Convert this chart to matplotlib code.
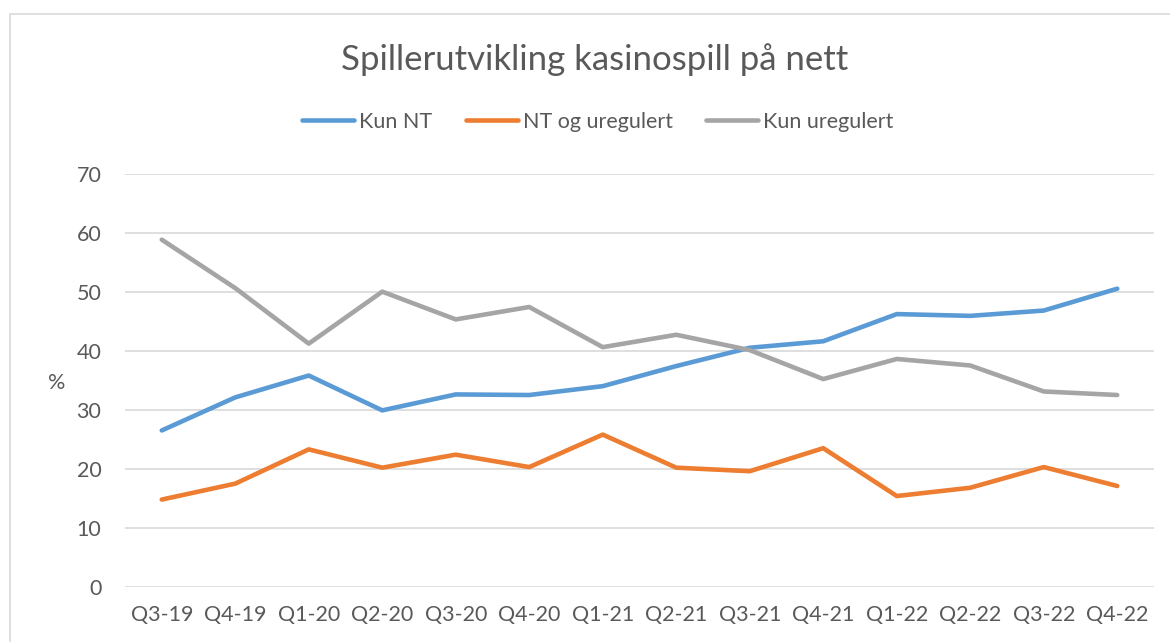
import matplotlib
matplotlib.use('Agg')
import matplotlib.pyplot as plt
from matplotlib.patches import Rectangle

plt.rcParams['font.family'] = ['Lato', 'DejaVu Sans']

quarters = ['Q3-19', 'Q4-19', 'Q1-20', 'Q2-20', 'Q3-20', 'Q4-20', 'Q1-21',
            'Q2-21', 'Q3-21', 'Q4-21', 'Q1-22', 'Q2-22', 'Q3-22', 'Q4-22']
kun_nt = [26.5, 32.1, 35.8, 29.9, 32.6, 32.5, 34.0, 37.4, 40.5, 41.6, 46.2, 45.9, 46.8, 50.5]
nt_og_uregulert = [14.8, 17.5, 23.3, 20.2, 22.4, 20.3, 25.8, 20.2, 19.6, 23.5, 15.4, 16.8, 20.3, 17.1]
kun_uregulert = [58.8, 50.6, 41.2, 50.0, 45.3, 47.4, 40.6, 42.7, 40.1, 35.2, 38.6, 37.5, 33.1, 32.5]

txt = '#595959'
fs = 15.5
W, H = 1170, 642
fig = plt.figure(figsize=(W / 100, H / 100), dpi=100)
ax = fig.add_axes([125 / W, 1 - 587 / H, (1154 - 125) / W, (587 - 173.5) / H])

x = range(len(quarters))
ax.plot(x, kun_nt, color='#5B9BD5', lw=3.3, solid_capstyle='round', solid_joinstyle='round', label='Kun NT')
ax.plot(x, nt_og_uregulert, color='#ED7D31', lw=3.3, solid_capstyle='round', solid_joinstyle='round', label='NT og uregulert')
ax.plot(x, kun_uregulert, color='#A5A5A5', lw=3.3, solid_capstyle='round', solid_joinstyle='round', label='Kun uregulert')

ax.set_xlim(-0.5, len(quarters) - 0.5)
ax.set_ylim(0, 70)
ax.set_yticks(range(0, 71, 10))
ax.set_xticks(list(x))
ax.set_xticklabels(quarters)
ax.grid(axis='y', color='#D9D9D9', lw=1.2)
ax.set_axisbelow(True)
for s in ax.spines.values():
    s.set_visible(False)
ax.tick_params(length=0, labelsize=fs, colors=txt)
ax.tick_params(axis='x', pad=13)
ax.tick_params(axis='y', pad=17)

fig.text(57 / W, 1 - 383 / H, '%', fontsize=fs, color=txt, ha='center', va='center')
fig.text(595 / W, 1 - 60 / H, 'Spillerutvikling kasinospill på nett', fontsize=25,
         color=txt, ha='center', va='center')

leg = fig.legend(loc='center', bbox_to_anchor=(598 / W, 1 - 122 / H), ncol=3, frameon=False,
                 fontsize=fs, handlelength=2.4, handletextpad=0.25, columnspacing=1.55)
for t in leg.get_texts():
    t.set_color(txt)

fig.patches.append(Rectangle((10 / W, -0.1), 1.2, 1 - 14 / H + 0.1, transform=fig.transFigure,
                             fill=False, edgecolor='#D9D9D9', lw=1.2))

fig.savefig('out.png', dpi=100)
